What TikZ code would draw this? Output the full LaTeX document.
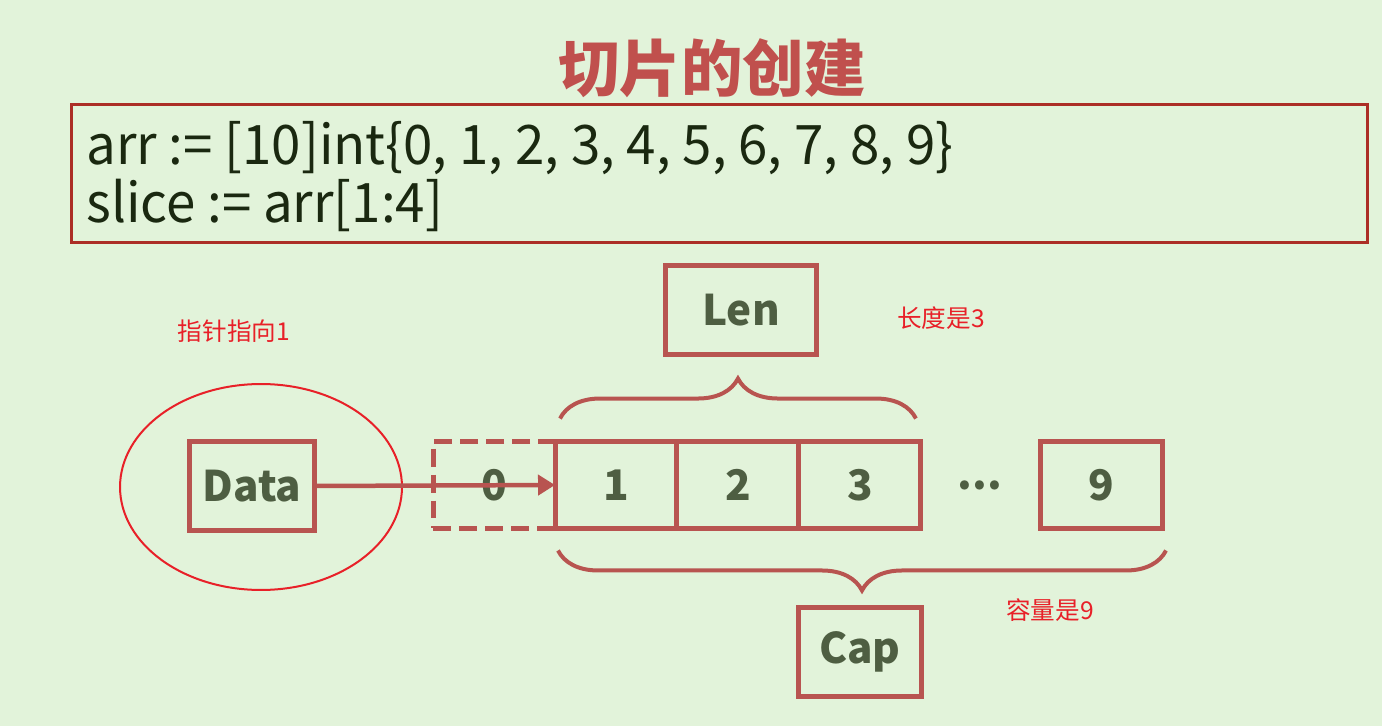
\documentclass[tikz,border=0pt]{standalone}
\usepackage{fontspec}
\usetikzlibrary{positioning,arrows.meta,shapes.geometric,decorations.pathreplacing}
\newfontfamily\cjk{Noto Sans CJK SC}
\newfontfamily\codefont[FakeStretch=0.97]{Noto Sans CJK SC}
\definecolor{bgreen}{RGB}{226,243,218}
\definecolor{boxred}{RGB}{184,84,80}
\definecolor{framered}{RGB}{172,46,38}
\definecolor{titlered}{RGB}{192,80,77}
\definecolor{notered}{RGB}{232,32,40}
\definecolor{labelgreen}{RGB}{78,94,66}
\definecolor{codegreen}{RGB}{26,40,16}
\tikzset{
  cell/.style={draw=boxred,line width=0.1cm,minimum width=2.44cm,minimum height=1.74cm,
    inner sep=0pt,outer sep=0pt,font=\cjk\bfseries\fontsize{24}{28}\selectfont,text=labelgreen},
  tag/.style={cell,minimum width=#1,minimum height=1.8cm},
  note/.style={font=\cjk\fontsize{14}{17}\selectfont,text=notered},
  brace/.style={draw=boxred,line width=0.08cm,decorate,decoration={brace,amplitude=0.8cm}},
  codeline/.style={anchor=west,inner sep=0pt,font=\codefont\fontsize{31}{35}\selectfont,text=codegreen}
}
\begin{document}
\begin{tikzpicture}[x=0.02cm,y=-0.02cm]
\fill[bgreen] (0,0) rectangle (1382,726);
\useasboundingbox (0,0) rectangle (1382,726);
% title and code
\node[font=\cjk\bfseries\fontsize{35}{40}\selectfont,text=titlered] (title) at (712,68) {切片的创建};
\node[draw=framered,line width=0.06cm,minimum width=25.94cm,minimum height=2.78cm] (code) at (719.5,173.5) {};
\node[codeline] (line1) at (86,148) {arr := [10]int\{0, 1, 2, 3, 4, 5, 6, 7, 8, 9\}};
\node[codeline] (line2) at (86,205) {slice := arr[1:4]};
% slice header
\node[tag=2.5cm] (data) at (252,486) {Data};
\node[draw=notered,line width=0.04cm,ellipse,minimum width=5.64cm,minimum height=4.12cm] (ptr) at (261,487) {};
\node[note] (ptrnote) at (234,331) {指针指向1};
% array cells
\node[cell] (c1) at (616,485) {1};
\node[cell,right=0cm of c1] (c2) {2};
\node[cell,right=0cm of c2] (c3) {3};
\node[cell,dashed,dash pattern=on 0.36cm off 0.16cm,left=0cm of c1] (c0) {0};
\node[cell,draw=none] (dots) at (980,485) {...};
\node[cell] (c9) at (1101,485) {9};
\draw[boxred,line width=0.09cm,-{Triangle[length=0.34cm,width=0.4cm]}] (data.east) -- (c1.west);
% len and cap
\draw[brace] ([xshift=0.1cm,yshift=0.46cm]c1.north west) -- ([xshift=-0.1cm,yshift=0.46cm]c3.north east);
\node[tag=3.04cm] (len) at (741,310) {Len};
\node[note] (lennote) at (941,318) {长度是3};
\draw[brace] ([xshift=0.08cm,yshift=-0.44cm]c9.south east) -- ([xshift=0.06cm,yshift=-0.44cm]c1.south west);
\node[tag=2.46cm] (cap) at (860,652) {Cap};
\node[note] (capnote) at (1050,610) {容量是9};
\end{tikzpicture}
\end{document}
